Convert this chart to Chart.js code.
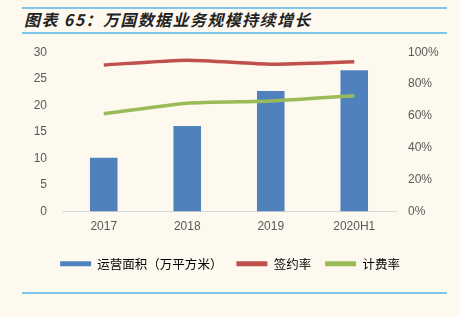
<!DOCTYPE html>
<html>
<head>
<meta charset="utf-8">
<script src="https://cdn.jsdelivr.net/npm/chart.js@4/dist/chart.umd.min.js"></script>
<style>
  html, body { margin: 0; padding: 0; background: #fef9ef; }
  #wrap { position: relative; width: 460px; height: 317px; background: #fef9ef; overflow: hidden; }
  .rule { position: absolute; left: 22px; width: 425px; height: 2px; background: #7fc7ea; }
  #title {
    position: absolute; left: 24px; top: 9px;
    font-family: "Noto Sans CJK SC", "Liberation Sans", sans-serif;
    font-size: 16px; font-weight: bold; font-style: italic; color: #222;
    letter-spacing: 1.4px;
    line-height: 20px; white-space: nowrap;
  }
  #box { position: absolute; left: 0; top: 30px; width: 460px; height: 250px; }
</style>
</head>
<body>
<div id="wrap">
  <div class="rule" style="top:7px"></div>
  <div id="title">图表 65：万国数据业务规模持续增长</div>
  <div class="rule" style="top:32px"></div>
  <div id="box"><canvas id="c"></canvas></div>
  <div class="rule" style="top:292px"></div>
</div>

<script>
// ===== DATA =====
const years = ['2017', '2018', '2019', '2020H1'];
const area = [10.1, 16.1, 22.7, 26.6];        // 运营面积（万平方米）
const signRate = [92, 95, 92.5, 94];          // 签约率 %
const billRate = [61.3, 68, 69.4, 72.7];      // 计费率 %

const tickFont = { family: 'Liberation Sans, Arial, sans-serif', size: 12 };
const gray = '#595959';

new Chart(document.getElementById('c'), {
    type: 'bar',
    data: {
        labels: years,
        datasets: [
            {
                label: '运营面积（万平方米）',
                data: area,
                yAxisID: 'y',
                backgroundColor: '#4f81bd',
                barPercentage: 0.33,
                categoryPercentage: 1,
                order: 3
            },
            {
                type: 'line',
                label: '签约率',
                data: signRate,
                yAxisID: 'y1',
                borderColor: '#c0504d',
                backgroundColor: '#c0504d',
                borderWidth: 3.5,
                pointRadius: 0,
                tension: 0.2,
                order: 1
            },
            {
                type: 'line',
                label: '计费率',
                data: billRate,
                yAxisID: 'y1',
                borderColor: '#9bbb59',
                backgroundColor: '#9bbb59',
                borderWidth: 3.5,
                pointRadius: 0,
                tension: 0.2,
                order: 2
            }
        ]
    },
    options: {
        responsive: true,
        maintainAspectRatio: false,
        animation: false,
        layout: { padding: { top: 2, left: 0, right: 0, bottom: 0 } },
        plugins: {
            tooltip: { enabled: false },
            legend: {
                position: 'bottom',
                labels: {
                    color: '#404040',
                    font: { family: 'Noto Sans CJK SC, sans-serif', size: 12.5 },
                    boxWidth: 31,
                    boxHeight: 5,
                    padding: 14,
                    generateLabels: chart => chart.data.datasets.map((ds, i) => ({
                        text: ds.label,
                        fillStyle: ds.backgroundColor,
                        strokeStyle: ds.backgroundColor,
                        lineWidth: 0,
                        datasetIndex: i,
                        hidden: false
                    }))
                }
            }
        },
        scales: {
            x: {
                grid: { display: false, drawTicks: false },
                border: { color: '#d9d9d9', width: 1 },
                ticks: { color: gray, font: tickFont, padding: 8 },
                afterFit: s => { s.height = 32; }
            },
            y: {
                position: 'left',
                min: 0, max: 30,
                ticks: { stepSize: 5, color: gray, font: tickFont, padding: 15 },
                grid: { display: false, drawTicks: false },
                border: { display: false },
                afterFit: s => { s.width = 62; }
            },
            y1: {
                position: 'right',
                min: 0, max: 100,
                ticks: { stepSize: 20, color: gray, font: tickFont, padding: 12,
                         callback: v => v + '%' },
                grid: { display: false, drawTicks: false },
                border: { display: false },
                afterFit: s => { s.width = 64; }
            }
        }
    }
});
</script>
</body>
</html>
